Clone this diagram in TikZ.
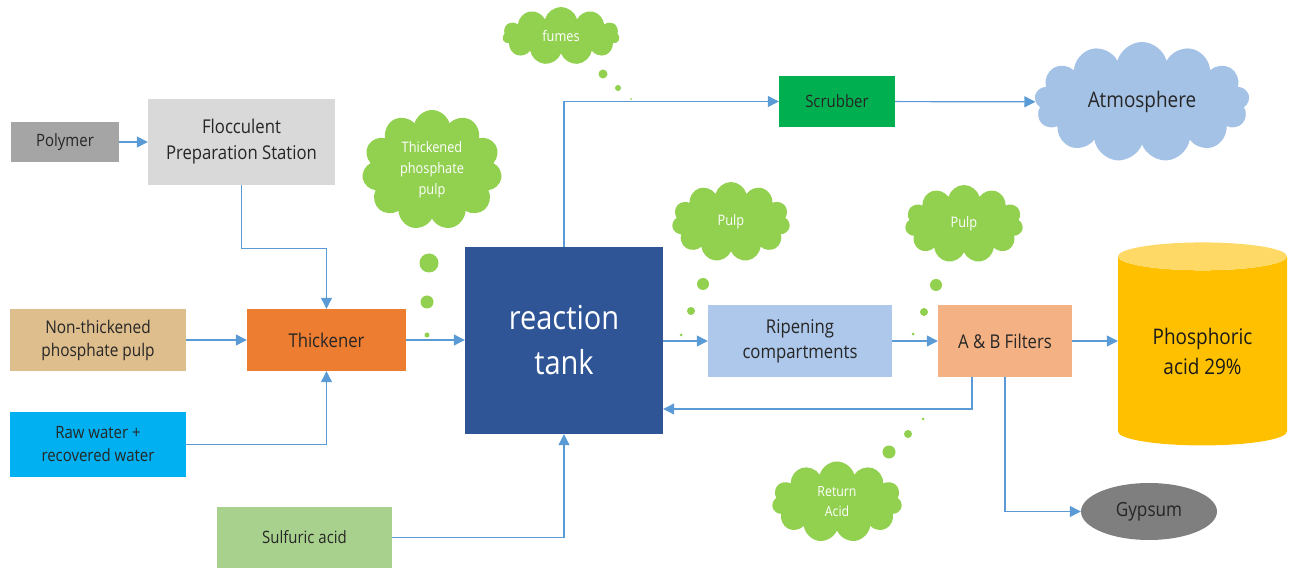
\documentclass[tikz,border=0pt]{standalone}
\usepackage{fontspec}
\setmainfont{Open Sans}[FakeStretch=0.88]
\usetikzlibrary{shapes.geometric,shapes.symbols,arrows.meta}
\definecolor{flowblue}{HTML}{5B9BD5}
\definecolor{puffgreen}{HTML}{92D050}
\definecolor{polygray}{HTML}{A5A5A5}
\definecolor{floccgray}{HTML}{D9D9D9}
\definecolor{pulptan}{HTML}{DFBE8D}
\definecolor{thickorange}{HTML}{ED7D31}
\definecolor{waterblue}{HTML}{00B0F0}
\definecolor{acidgreen}{HTML}{A9D18E}
\definecolor{tankblue}{HTML}{2F5597}
\definecolor{scrubgreen}{HTML}{00B050}
\definecolor{skyblue}{HTML}{A4C2E6}
\definecolor{ripeblue}{HTML}{ADC8EA}
\definecolor{filtsalmon}{HTML}{F4B183}
\definecolor{acidgold}{HTML}{FFC000}
\definecolor{acidtop}{HTML}{FFD966}
\definecolor{gypgray}{HTML}{7F7F7F}
\begin{document}
\begin{tikzpicture}[x=1pt,y=-1pt,
    block/.style={rectangle, inner sep=0pt, align=center, text=black!85, font=\fontsize{18}{24}\selectfont},
    puff/.style={cloud, cloud puffs=11, cloud ignores aspect, fill=puffgreen, text=white, inner sep=0pt, align=center, font=\fontsize{14.5}{21}\selectfont},
    flow/.style={draw=flowblue, line width=1.2pt, -{Triangle[length=11pt,width=11pt]}}]
    \useasboundingbox (0,0) rectangle (1294,569);

    % Feed side
    \node[block, fill=polygray, minimum width=108pt, minimum height=40pt, font=\fontsize{17}{22}\selectfont] (poly) at (65,142) {Polymer};
    \node[block, fill=floccgray, minimum width=187pt, minimum height=86pt, font=\fontsize{19}{26}\selectfont] (floc) at (241.5,142) {Flocculent\\Preparation Station};
    \node[block, fill=pulptan, minimum width=176pt, minimum height=62pt, font=\fontsize{17.5}{23}\selectfont] (nonthick) at (98,340) {Non-thickened\\phosphate pulp};
    \node[block, fill=thickorange, minimum width=159pt, minimum height=62pt, font=\fontsize{19}{24}\selectfont] (thick) at (326.5,340) {Thickener};
    \node[block, fill=waterblue, minimum width=176pt, minimum height=65pt, font=\fontsize{17}{23}\selectfont] (raw) at (98,444.5) {Raw water +\\recovered water};
    \node[block, fill=acidgreen, minimum width=175pt, minimum height=61pt, font=\fontsize{17}{23}\selectfont] (sulf) at (304.5,537.5) {Sulfuric acid};

    % Arrows
    \draw[flow] (poly) -- (floc);
    \draw[flow] (floc.south) -- ++(0,63) -| (thick.north);
    \draw[flow] (nonthick) -- (thick);
    \draw[flow] (raw.east) -| (thick.south);

    % Reaction
    \node[block, fill=tankblue, text=white, minimum width=198pt, minimum height=187pt, font=\fontsize{33}{45}\selectfont] (tank) at (564,340.5) {reaction\\tank};
    \node[block, fill=scrubgreen, minimum width=116pt, minimum height=51pt, font=\fontsize{17}{22}\selectfont] (scrub) at (837,101.5) {Scrubber};
    \node[cloud, cloud puffs=13, cloud ignores aspect, fill=skyblue, text=black!85, inner sep=0pt, minimum width=215pt, minimum height=120pt, font=\fontsize{21.5}{26}\selectfont] (atm) at (1142,102) {Atmosphere};

    % Arrows
    \draw[flow] (thick.east) -- (thick.east -| tank.west);
    \draw[flow] (sulf.east) -| (tank.south);
    \draw[flow] (tank.north) |- (scrub.west);
    \draw[flow] (scrub) -- (atm);

    % Downstream
    \node[block, fill=ripeblue, minimum width=184pt, minimum height=72pt, font=\fontsize{19}{25}\selectfont] (ripen) at (800,341) {Ripening\\compartments};
    \node[block, fill=filtsalmon, minimum width=134pt, minimum height=72pt, font=\fontsize{19}{24}\selectfont] (filt) at (1005,341) {A \& B Filters};
    \node[cylinder, shape border rotate=90, aspect=0.28, cylinder uses custom fill, cylinder body fill=acidgold, cylinder end fill=acidtop, inner sep=0pt, minimum width=169pt, minimum height=203pt, align=center, text=black!90, font=\fontsize{21.5}{30}\selectfont] (cyl) at (1202.5,351) {Phosphoric\\acid 29\%};
    \node[ellipse, fill=gypgray, inner sep=0pt, minimum width=136pt, minimum height=57pt, text=black!85, font=\fontsize{19.5}{24}\selectfont] (gyp) at (1149,511.5) {Gypsum};

    % Arrows
    \draw[flow] (tank.east |- ripen.west) -- (ripen.west);
    \draw[flow] (ripen) -- (filt);
    \draw[flow] (filt.east) -- (filt.east -| cyl.west);
    \draw[flow] ([xshift=-33pt]filt.south) |- ([yshift=-68.5pt]tank.east);
    \draw[flow] (filt.south) |- (gyp.west);

    % Stream labels
    \node[puff, minimum width=117pt, minimum height=58pt] (fumes) at (561,36) {fumes};
    \node[puff, minimum width=140pt, minimum height=120pt] (thickpulp) at (432,170) {Thickened\\phosphate\\pulp};
    \node[puff, minimum width=118pt, minimum height=80pt] (pulpa) at (731,222) {Pulp};
    \node[puff, minimum width=118pt, minimum height=78pt] (pulpb) at (964,224) {Pulp};
    \node[puff, minimum width=130pt, minimum height=81pt, font=\fontsize{14}{20}\selectfont] (retacid) at (837,502) {Return\\Acid};

    % Thought dots
    \fill[puffgreen] (603,74) circle (4.5) (618,88) circle (3) (631,99) circle (1);
    \fill[puffgreen] (429,263) circle (9.5) (427,302) circle (6.5) (427,335) circle (2.5);
    \fill[puffgreen] (703,284) circle (6) (691,311) circle (4) (681,335) circle (1.5);
    \fill[puffgreen] (936,285) circle (6) (924,312) circle (4) (913,334) circle (1.5);
    \fill[puffgreen] (889,452) circle (6.5) (908,434) circle (4) (923,419) circle (1.5);
\end{tikzpicture}
\end{document}
